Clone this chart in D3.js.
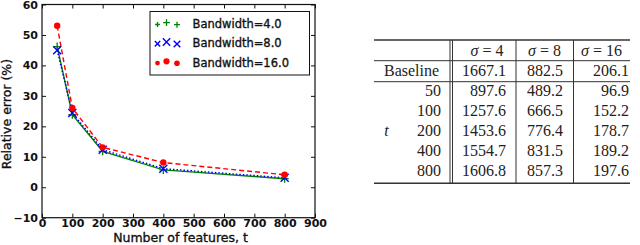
<!DOCTYPE html>
<meta charset="utf-8">
<style>
body { margin: 0; background: #fff; }
svg { display: block; }
.tick text { font-family: "DejaVu Sans", sans-serif; font-weight: bold; font-size: 11px; fill: #111; }
.lbl { font-family: "DejaVu Sans", sans-serif; font-size: 12.5px; fill: #111; stroke: #111; stroke-width: 0.35px; }
.leg { font-family: "DejaVu Sans", sans-serif; font-size: 11.5px; fill: #111; stroke: #111; stroke-width: 0.35px; }
.tbl { font-family: "Liberation Serif", serif; font-size: 16px; fill: #222; }
</style>
<svg width="640" height="245"></svg>
<script src="https://cdnjs.cloudflare.com/ajax/libs/d3/7.8.5/d3.min.js"></script>
<script>
// chart data
var features = [50, 100, 200, 400, 800];
var bw4 = [46.2, 23.8, 11.8, 5.7, 2.8];
var bw8 = [45.0, 24.4, 12.3, 6.1, 3.1];
var bw16 = [53.0, 26.0, 13.1, 8.1, 4.1];
var seriesNames = ["Bandwidth=4.0", "Bandwidth=8.0", "Bandwidth=16.0"];
var xTicks = [0, 100, 200, 300, 400, 500, 600, 700, 800, 900];
var yTicks = [-10, 0, 10, 20, 30, 40, 50, 60];

// table data
var sigmaCols = ["σ = 4", "σ = 8", "σ = 16"];
var baseline = ["1667.1", "882.5", "206.1"];
var tRows = ["50", "100", "200", "400", "800"];
var tValues = [
  ["897.6", "489.2", "96.9"],
  ["1257.6", "666.5", "152.2"],
  ["1453.6", "776.4", "178.7"],
  ["1554.7", "831.5", "189.2"],
  ["1606.8", "857.3", "197.6"]
];

var svg = d3.select("svg");
var pl = 42, pr = 315, pt = 4.5, pb = 217.7;

var x = d3.scaleLinear().domain([0, 900]).range([pl, pr]);
var y = d3.scaleLinear().domain([-10, 60]).range([pb, pt]);

var g = svg.append("g");

// axes, ticks inward like matplotlib
function fmt(d) { return d < 0 ? "\u2212" + Math.abs(d) : d; }
g.append("g").attr("transform", "translate(0," + pb + ")")
  .call(d3.axisBottom(x).tickValues(xTicks).tickSize(-4).tickPadding(1.5).tickFormat(fmt))
  .call(a => a.select(".domain").remove());
g.append("g").attr("transform", "translate(0," + pt + ")")
  .call(d3.axisTop(x).tickValues(xTicks).tickSize(-4).tickFormat(""))
  .call(a => a.select(".domain").remove());
g.append("g").attr("transform", "translate(" + pl + ",0)")
  .call(d3.axisLeft(y).tickValues(yTicks).tickSize(-4).tickPadding(4).tickFormat(fmt))
  .call(a => a.select(".domain").remove());
g.append("g").attr("transform", "translate(" + pr + ",0)")
  .call(d3.axisRight(y).tickValues(yTicks).tickSize(-4).tickFormat(""))
  .call(a => a.select(".domain").remove());
g.selectAll(".tick line").attr("stroke", "#111");

g.append("rect").attr("x", pl).attr("y", pt)
  .attr("width", pr - pl).attr("height", pb - pt)
  .attr("fill", "none").attr("stroke", "#111").attr("stroke-width", 1.2);

g.append("text").attr("class", "lbl")
  .attr("x", (pl + pr) / 2 + 2).attr("y", 241.5).attr("text-anchor", "middle")
  .text("Number of features, t");
g.append("text").attr("class", "lbl")
  .attr("transform", "translate(11," + ((pt + pb) / 2 + 3) + ") rotate(-90)")
  .attr("text-anchor", "middle").text("Relative error (%)");

var series = [
  { vals: bw4, color: "#008000", dash: null, marker: "plus" },
  { vals: bw8, color: "#0000ff", dash: "1.5,2", marker: "x" },
  { vals: bw16, color: "#ff0000", dash: "5,3", marker: "dot" }
];

var line = d3.line().x(d => x(d[0])).y(d => y(d[1]));

function drawMarker(sel, type, cx, cy, s, color) {
  if (type === "plus") {
    sel.append("path").attr("d", "M" + (cx - s) + "," + cy + "H" + (cx + s) + "M" + cx + "," + (cy - s) + "V" + (cy + s))
      .attr("stroke", color).attr("stroke-width", 1.3).attr("fill", "none");
  } else if (type === "x") {
    sel.append("path").attr("d", "M" + (cx - s) + "," + (cy - s) + "L" + (cx + s) + "," + (cy + s) + "M" + (cx - s) + "," + (cy + s) + "L" + (cx + s) + "," + (cy - s))
      .attr("stroke", color).attr("stroke-width", 1.4).attr("fill", "none");
  } else {
    sel.append("circle").attr("cx", cx).attr("cy", cy).attr("r", s).attr("fill", color);
  }
}

series.forEach(function(s) {
  var pts = features.map((f, i) => [f, s.vals[i]]);
  g.append("path").datum(pts).attr("d", line)
    .attr("fill", "none").attr("stroke", s.color).attr("stroke-width", 1.4)
    .attr("stroke-dasharray", s.dash);
  var mg = g.append("g");
  pts.forEach(p => drawMarker(mg, s.marker, x(p[0]), y(p[1]), s.marker === "dot" ? 3.2 : 4, s.color));
});

// legend
var lg = svg.append("g");
lg.append("rect").attr("x", 150).attr("y", 11.5).attr("width", 159.5).attr("height", 63.5)
  .attr("fill", "#fff").attr("stroke", "#111").attr("stroke-width", 1);
var legX = [157.5, 166.5, 177];
var legDy = [1, -0.8, 1.2];
var legSize = [[2.4, 3.4, 3], [2.7, 3.7, 3.3], [2.4, 3.1, 2.8]];
series.forEach(function(s, i) {
  var cy = 23.5 + i * 19.3;
  legX.forEach((lx, j) => drawMarker(lg, s.marker, lx, cy + legDy[j], legSize[i][j], s.color));
  lg.append("text").attr("class", "leg").attr("x", 192.5).attr("y", cy + 4.5).text(seriesNames[i]);
});

// table
var tg = svg.append("g");
var tx0 = 374, tx1 = 630;
var ruleY = [40, 60.7, 81.7, 183.3];
var rowY = [55.5, 76, 96, 116, 135.5, 155.5, 175.5];
tg.append("line").attr("x1", tx0).attr("x2", tx1).attr("y1", ruleY[0]).attr("y2", ruleY[0]).attr("stroke", "#333").attr("stroke-width", 1.6);
tg.append("line").attr("x1", tx0).attr("x2", tx1).attr("y1", ruleY[1]).attr("y2", ruleY[1]).attr("stroke", "#333").attr("stroke-width", 1);
tg.append("line").attr("x1", tx0).attr("x2", tx1).attr("y1", ruleY[2]).attr("y2", ruleY[2]).attr("stroke", "#333").attr("stroke-width", 1);
tg.append("line").attr("x1", tx0).attr("x2", tx1).attr("y1", ruleY[3]).attr("y2", ruleY[3]).attr("stroke", "#333").attr("stroke-width", 1.6);
[450, 452.5, 516, 573.5].forEach(function(vx) {
  tg.append("line").attr("x1", vx).attr("x2", vx).attr("y1", ruleY[0]).attr("y2", ruleY[3]).attr("stroke", "#333").attr("stroke-width", 1);
});

var colCenter = [487, 544.5, 601.5];
var colRight = [506, 563, 629];
sigmaCols.forEach(function(c, i) {
  var t = tg.append("text").attr("class", "tbl").attr("x", colCenter[i]).attr("y", rowY[0]).attr("text-anchor", "middle");
  t.append("tspan").attr("font-style", "italic").text("σ");
  t.append("tspan").text(c.slice(1));
});
tg.append("text").attr("class", "tbl").attr("x", 411.5).attr("y", rowY[1]).attr("text-anchor", "middle").text("Baseline");
baseline.forEach(function(v, i) {
  tg.append("text").attr("class", "tbl").attr("x", colRight[i]).attr("y", rowY[1]).attr("text-anchor", "end").text(v);
});
tRows.forEach(function(r, ri) {
  var yy = rowY[ri + 2];
  tg.append("text").attr("class", "tbl").attr("x", 441).attr("y", yy).attr("text-anchor", "end").text(r);
  tValues[ri].forEach(function(v, i) {
    tg.append("text").attr("class", "tbl").attr("x", colRight[i]).attr("y", yy).attr("text-anchor", "end").text(v);
  });
});
tg.append("text").attr("class", "tbl").attr("x", 386.5).attr("y", rowY[4]).attr("text-anchor", "middle")
  .attr("font-style", "italic").text("t");
</script>
